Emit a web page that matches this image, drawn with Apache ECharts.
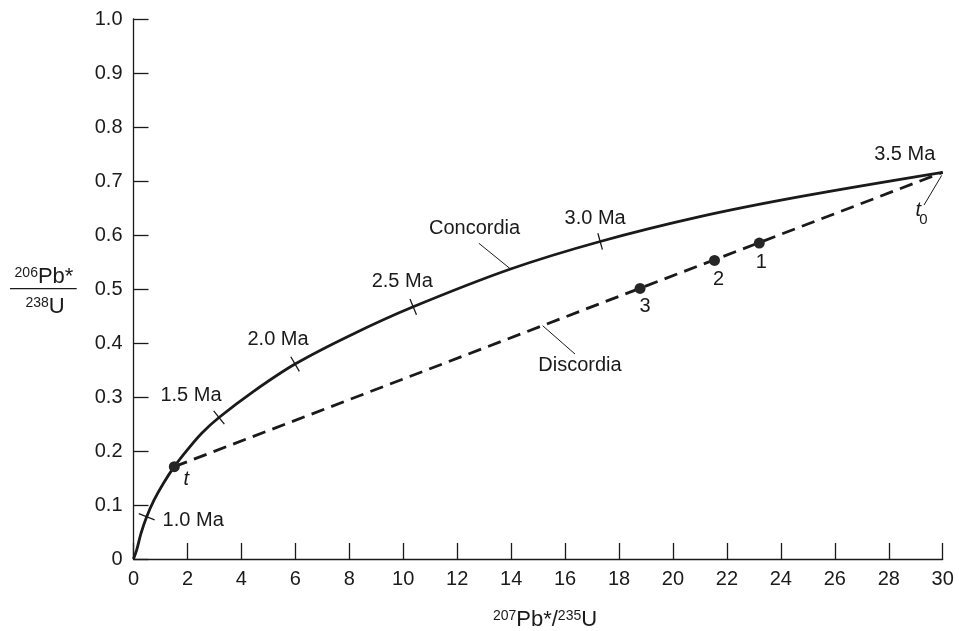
<!DOCTYPE html>
<html><head><meta charset="utf-8">
<script src="https://cdn.jsdelivr.net/npm/echarts@6/dist/echarts.min.js"></script>
<style>html,body{margin:0;padding:0;background:#fff}#c{width:959px;height:631px}</style>
</head><body><div id="c"></div>
<script>
// ---- data ----
const concX = [0, 0.119, 0.278, 0.489, 0.760, 1.105, 1.513, 1.995, 2.529, 3.17, 4.44, 5.99, 8.03, 10.37, 13.98, 17.30, 21.0, 24.71, 30];
const concY = [0, 0.0167, 0.0476, 0.0783, 0.109, 0.140, 0.171, 0.202, 0.233, 0.262, 0.310, 0.361, 0.414, 0.467, 0.537, 0.588, 0.634, 0.671, 0.716];
const discX = [1.513, 30];
const discY = [0.171, 0.716];
const sampleNames = ['t', '1', '2', '3'];
const sampleX = [1.513, 23.2, 21.54, 18.78];
const sampleY = [0.171, 0.585, 0.553, 0.501];
const ageLabels = ['1.0 Ma', '1.5 Ma', '2.0 Ma', '2.5 Ma', '3.0 Ma', '3.5 Ma'];
const ageX = [0.489, 3.17, 5.99, 10.37, 17.30, 30];
const ageY = [0.0783, 0.262, 0.361, 0.467, 0.588, 0.716];
const noteNames = ['Concordia', 'Discordia', 't0'];
const noteX = [13.98, 15.17, 30];
const noteY = [0.537, 0.432, 0.716];
const xTickLabels = ['0','2','4','6','8','10','12','14','16','18','20','22','24','26','28','30'];
const yTickLabels = ['0','0.1','0.2','0.3','0.4','0.5','0.6','0.7','0.8','0.9','1.0'];

// ---- layout / style ----
const INK = '#1a1a1a';
const FONT = '"Liberation Sans", Arial, Helvetica, sans-serif';
const ageLabelOffset = [[46.5, 3.5], [-28, -22.5], [-17, -25], [-11, -25], [-5, -23], [-38, -18]];
const sampleLabelOffset = [[12, 13], [2, 19], [4, 19], [5, 18]];
// pointer start, pointer end, text centre (px offsets from anchor)
const noteLayout = [
  {p1: [0, 0], p2: [-31.7, -25.7], t: [-36, -40.7]},
  {p1: [0, 0], p2: [32.3, 28.3], t: [37.3, 40]},
  {p1: [-1, 3], p2: [-18.7, 32.7], t: [-24.4, 38.5], sub: [-19.4, 47.4]}
];

function txt(x, y, text, size, extra) {
  return Object.assign({type: 'text', x: x, y: y, silent: true,
    style: {text: text, font: size + 'px ' + FONT, fontSize: size, fontFamily: FONT, fill: INK,
      align: 'center', verticalAlign: 'middle', textAlign: 'center', textVerticalAlign: 'middle'}}, extra || {});
}

const chart = echarts.init(document.getElementById('c'), null, {renderer: 'canvas'});
const option = {
  animation: false,
  backgroundColor: '#fff',
  textStyle: {fontFamily: FONT},
  grid: {left: 133.5, right: 16.3, top: 19, bottom: 72, containLabel: false},
  xAxis: {
    type: 'value', min: 0, max: 30, interval: 2,
    axisLine: {show: true, onZero: false, lineStyle: {color: INK, width: 1.3}},
    axisTick: {show: true, inside: true, length: 16, lineStyle: {color: INK, width: 1.3}},
    axisLabel: {color: INK, fontSize: 20, fontFamily: FONT, margin: 10,
      formatter: function (v) { return xTickLabels[Math.round(v / 2)]; }},
    splitLine: {show: false}
  },
  yAxis: {
    type: 'value', min: 0, max: 1, interval: 0.1,
    axisLine: {show: true, onZero: false, lineStyle: {color: INK, width: 1.3}},
    axisTick: {show: true, inside: true, length: 15, lineStyle: {color: INK, width: 1.3}},
    axisLabel: {color: INK, fontSize: 20, fontFamily: FONT, margin: 11,
      formatter: function (v) { return yTickLabels[Math.round(v * 10)]; }},
    splitLine: {show: false}
  },
  series: [
    {
      name: 'Concordia', type: 'line', silent: true,
      data: concX.map((x, i) => [x, concY[i]]),
      smooth: 0.35, showSymbol: false, symbol: 'none',
      lineStyle: {color: INK, width: 2.8}, z: 3
    },
    {
      name: 'Discordia', type: 'line', silent: true,
      data: discX.map((x, i) => [x, discY[i]]),
      showSymbol: false, symbol: 'none',
      lineStyle: {color: INK, width: 2.8, type: [13.5, 7.5]}, z: 2
    },
    {
      name: 'Samples', type: 'scatter', silent: true,
      symbol: 'circle', symbolSize: 11,
      itemStyle: {color: '#262626', opacity: 1},
      data: sampleNames.map((n, i) => ({
        name: n, value: [sampleX[i], sampleY[i]],
        label: {show: true, position: 'inside', offset: sampleLabelOffset[i],
          formatter: n, color: INK, fontSize: 20, fontFamily: FONT,
          fontStyle: n === 't' ? 'italic' : 'normal'}
      })), z: 4
    },
    {
      name: 'Ages', type: 'custom', silent: true, clip: false,
      data: ageX.map((x, i) => [x, ageY[i]]),
      renderItem: function (params, api) {
        const i = params.dataIndex;
        const x = api.value(0), y = api.value(1);
        const p = api.coord([x, y]);
        const children = [];
        const k = concX.indexOf(x);
        if (k > 0 && k < concX.length - 1) {
          const a = api.coord([concX[k - 1], concY[k - 1]]);
          const b = api.coord([concX[k + 1], concY[k + 1]]);
          let dx = b[0] - a[0], dy = b[1] - a[1];
          const L = Math.hypot(dx, dy); dx /= L; dy /= L;
          const nx = -dy, ny = dx, h = 8.5;
          children.push({type: 'line', shape: {x1: p[0] - nx * h, y1: p[1] - ny * h, x2: p[0] + nx * h, y2: p[1] + ny * h},
            style: {stroke: INK, lineWidth: 1.3}});
        }
        const o = ageLabelOffset[i];
        children.push(txt(p[0] + o[0], p[1] + o[1], ageLabels[i], 20));
        return {type: 'group', children: children};
      }, z: 5
    },
    {
      name: 'Notes', type: 'custom', silent: true, clip: false,
      data: noteX.map((x, i) => [x, noteY[i]]),
      renderItem: function (params, api) {
        const i = params.dataIndex;
        const p = api.coord([api.value(0), api.value(1)]);
        const L = noteLayout[i];
        const children = [
          {type: 'line', shape: {x1: p[0] + L.p1[0], y1: p[1] + L.p1[1], x2: p[0] + L.p2[0], y2: p[1] + L.p2[1]},
            style: {stroke: INK, lineWidth: 1}}
        ];
        if (noteNames[i] === 't0') {
          const t = txt(p[0] + L.t[0], p[1] + L.t[1], 't', 20);
          t.style.fontStyle = 'italic';
          t.style.font = 'italic 20px ' + FONT;
          children.push(t);
          children.push(txt(p[0] + L.sub[0], p[1] + L.sub[1], '0', 15));
        } else {
          children.push(txt(p[0] + L.t[0], p[1] + L.t[1], noteNames[i], 20));
        }
        return {type: 'group', children: children};
      }, z: 5
    }
  ],
  graphic: [
    {type: 'text', x: 44, y: 277, silent: true,
      style: {text: '{s|206}{n|Pb*}', align: 'center', verticalAlign: 'middle', textAlign: 'center', textVerticalAlign: 'middle',
        fill: INK, rich: {
          s: {fontSize: 14, fontFamily: FONT, fill: INK, color: INK, lineHeight: 10, verticalAlign: 'top'},
          n: {fontSize: 22, fontFamily: FONT, fill: INK, color: INK, lineHeight: 22}
        }}},
    {type: 'line', silent: true, shape: {x1: 10, y1: 288.7, x2: 76.7, y2: 288.7}, style: {stroke: INK, lineWidth: 1.3}},
    {type: 'text', x: 45, y: 307, silent: true,
      style: {text: '{s|238}{n|U}', align: 'center', verticalAlign: 'middle', textAlign: 'center', textVerticalAlign: 'middle',
        fill: INK, rich: {
          s: {fontSize: 14, fontFamily: FONT, fill: INK, color: INK, lineHeight: 10, verticalAlign: 'top'},
          n: {fontSize: 22, fontFamily: FONT, fill: INK, color: INK, lineHeight: 22}
        }}},
    {type: 'text', x: 545, y: 620, silent: true,
      style: {text: '{s|207}{n|Pb*/}{s|235}{n|U}', align: 'center', verticalAlign: 'middle', textAlign: 'center', textVerticalAlign: 'middle',
        fill: INK, rich: {
          s: {fontSize: 14, fontFamily: FONT, fill: INK, color: INK, lineHeight: 10, verticalAlign: 'top'},
          n: {fontSize: 22, fontFamily: FONT, fill: INK, color: INK, lineHeight: 22}
        }}}
  ]
};
chart.setOption(option);
</script>
</body></html>
